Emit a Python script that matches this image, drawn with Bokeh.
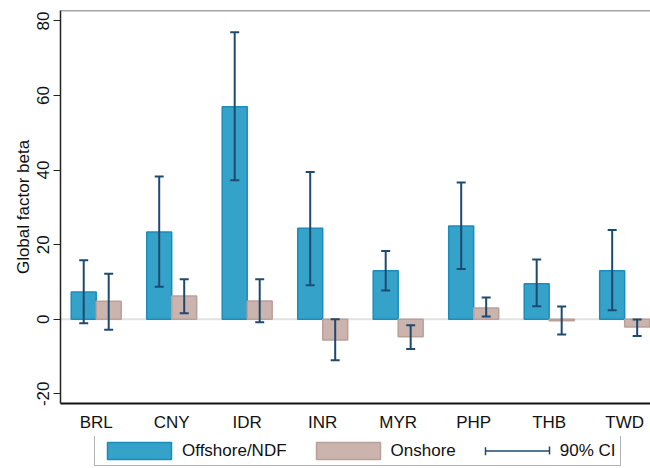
import numpy as np
from bokeh.plotting import figure
from bokeh.layouts import column
from bokeh.models import (ColumnDataSource, Range1d, FixedTicker, Whisker, TeeHead,
                          Span, Legend, LegendItem)
from bokeh.embed import file_html
from bokeh.resources import INLINE

# Global factor betas by currency, with 90% confidence bounds
currencies = ["BRL", "CNY", "IDR", "INR", "MYR", "PHP", "THB", "TWD"]
offshore_beta = [7.3, 23.4, 57.0, 24.4, 13.0, 25.0, 9.5, 13.0]
offshore_ci_low = [-1.1, 8.7, 37.3, 9.1, 7.7, 13.5, 3.5, 2.4]
offshore_ci_high = [15.8, 38.3, 77.0, 39.5, 18.3, 36.7, 16.0, 23.9]
onshore_beta = [4.8, 6.2, 4.9, -5.6, -4.7, 3.0, -0.4, -2.1]
onshore_ci_low = [-2.8, 1.6, -0.8, -11.0, -8.0, 0.7, -4.1, -4.5]
onshore_ci_high = [12.2, 10.7, 10.7, 0.0, -1.6, 5.8, 3.4, -0.1]
y_ticks = [-20, 0, 20, 40, 60, 80]

FONT = "Liberation Sans"
BLUE, BLUE_EDGE = "#35a2c9", "#1a8dbd"
ROSE, ROSE_EDGE = "#cbb3ae", "#bb9f99"
CI_COLOR = "#1f4a70"

BAR_W = 0.331
Y_MIN, Y_MAX = -22.6, 82.8
pos = np.arange(len(currencies))

# ---- main chart -------------------------------------------------------------
p = figure(width=650, height=436, output_backend="svg", toolbar_location=None,
           x_range=Range1d(-0.473, 7.342), y_range=Range1d(Y_MIN, Y_MAX),
           min_border_left=60, min_border_right=0, min_border_top=10,
           min_border_bottom=33)
p.outline_line_color = None
p.background_fill_color = "white"
p.border_fill_color = "white"
p.xgrid.visible = False
p.ygrid.visible = False

# zero reference line and top frame line
p.add_layout(Span(location=0, dimension="width", line_color="#e2e2e2",
                  line_width=2, level="underlay"))
p.add_layout(Span(location=Y_MAX, dimension="width", line_color="#4d4d4d",
                  line_width=1.5))

off_src = ColumnDataSource(dict(x=pos - BAR_W / 2, top=offshore_beta,
                                lo=offshore_ci_low, hi=offshore_ci_high))
on_src = ColumnDataSource(dict(x=pos + BAR_W / 2, top=onshore_beta,
                               lo=onshore_ci_low, hi=onshore_ci_high))

bar_off_style = dict(fill_color=BLUE, line_color=BLUE_EDGE, line_width=1.5)
bar_on_style = dict(fill_color=ROSE, line_color=ROSE_EDGE, line_width=1.5)

p.vbar(x="x", top="top", bottom=0, width=BAR_W, source=off_src, **bar_off_style)
p.vbar(x="x", top="top", bottom=0, width=BAR_W, source=on_src, **bar_on_style)

for src in (off_src, on_src):
    p.add_layout(Whisker(source=src, base="x", lower="lo", upper="hi",
                         dimension="height", line_color=CI_COLOR, line_width=2,
                         level="overlay",
                         lower_head=TeeHead(size=9, line_color=CI_COLOR, line_width=2),
                         upper_head=TeeHead(size=9, line_color=CI_COLOR, line_width=2)))

yax = p.yaxis[0]
yax.ticker = FixedTicker(ticks=y_ticks)
yax.major_label_overrides = {t: str(t) for t in y_ticks}
yax.major_label_orientation = "vertical"
yax.axis_label = "Global factor beta"
yax.axis_label_text_font = FONT
yax.axis_label_text_font_size = "17px"
yax.axis_label_text_font_style = "normal"
yax.axis_label_text_color = "#111111"
yax.axis_label_standoff = 2
yax.major_label_text_font = FONT
yax.major_label_text_font_size = "17px"
yax.major_label_text_color = "#111111"
yax.major_label_standoff = 4
yax.major_tick_out = 7
yax.major_tick_in = 0
yax.minor_tick_line_color = None
yax.axis_line_color = "#222222"
yax.axis_line_width = 1.5
yax.major_tick_line_color = "#222222"
yax.major_tick_line_width = 1.2

xax = p.xaxis[0]
xax.ticker = FixedTicker(ticks=[float(i) for i in pos])
xax.major_label_overrides = {int(i): c for i, c in zip(pos, currencies)}
xax.major_label_text_font = FONT
xax.major_label_text_font_size = "17px"
xax.major_label_text_color = "#111111"
xax.major_label_standoff = 3
xax.major_tick_line_color = None
xax.minor_tick_line_color = None
xax.axis_line_color = "#111111"
xax.axis_line_width = 2

# ---- legend strip (its frame lines up with the chart frame above) ----------
leg = figure(width=650, height=32, output_backend="svg", toolbar_location=None,
             x_range=Range1d(0, 1), y_range=Range1d(0, 1),
             x_axis_location=None, y_axis_location=None,
             min_border=0, min_border_left=0, min_border_right=0,
             min_border_top=0, min_border_bottom=0)
leg.outline_line_color = None
leg.xgrid.visible = False
leg.ygrid.visible = False
leg.background_fill_color = "white"
leg.border_fill_color = "white"

# key glyphs only: NaN rows leave the strip itself empty
nan = [float("nan")]
k_off = leg.vbar(x=nan, top=nan, bottom=0, width=1, **bar_off_style)
k_on = leg.vbar(x=nan, top=nan, bottom=0, width=1, **bar_on_style)
# interval key: a horizontal bar with short end caps
k_ci_line = leg.segment(x0=nan, y0=nan, x1=nan, y1=nan, line_color=CI_COLOR,
                        line_width=1.5, line_dash="0 8 64 100")
k_ci_caps = leg.quad(left=nan, right=nan, top=nan, bottom=nan, fill_color=None,
                     line_color=CI_COLOR, line_width=1.5,
                     line_dash="0 68 8 73 8 100")

legend = Legend(items=[LegendItem(label="Offshore/NDF", renderers=[k_off]),
                       LegendItem(label="Onshore", renderers=[k_on]),
                       LegendItem(label="90% CI", renderers=[k_ci_line, k_ci_caps])],
                orientation="horizontal", location=(34, 2),
                glyph_width=80, glyph_height=21, label_height=21,
                label_standoff=3, spacing=21, padding=4, margin=0,
                label_text_font=FONT, label_text_font_size="17px",
                label_text_color="#111111",
                border_line_color="#666666", border_line_width=1.2,
                background_fill_color="white", background_fill_alpha=1.0)
leg.add_layout(legend)

layout = column(p, leg, spacing=0)
open("out.html", "w").write(file_html(layout, INLINE))
